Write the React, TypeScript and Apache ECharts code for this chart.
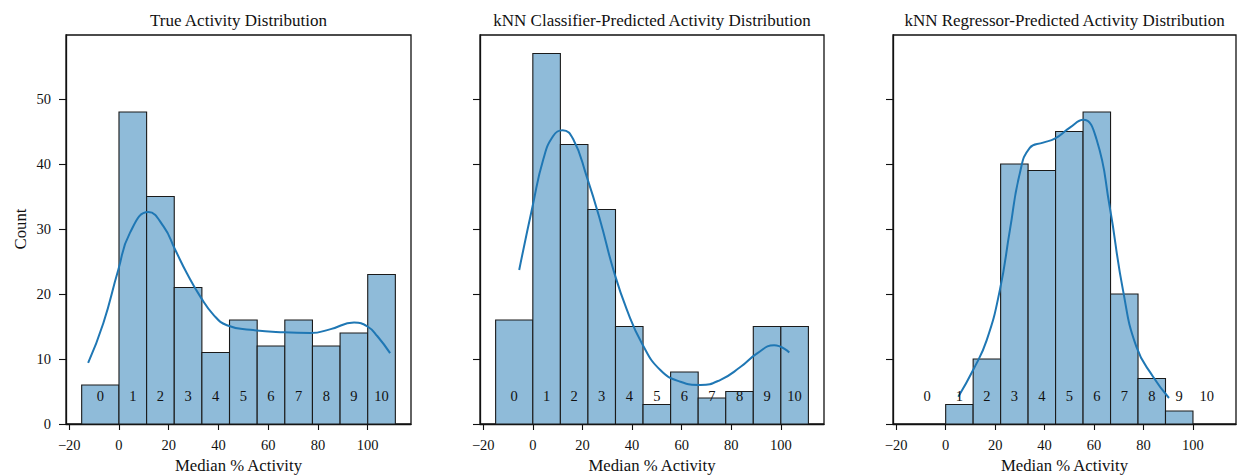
import { useEffect, useRef } from "react";
import * as echarts from "echarts";

const binEdges = [-15, 0, 11.11, 22.22, 33.33, 44.44, 55.56, 66.67, 77.78, 88.89, 100, 111.11];
const binLabels = ["0", "1", "2", "3", "4", "5", "6", "7", "8", "9", "10"];
const trueCounts = [6, 48, 35, 21, 11, 16, 12, 16, 12, 14, 23];
const classifierCounts = [16, 57, 43, 33, 15, 3, 8, 4, 5, 15, 15];
const regressorCounts = [0, 3, 10, 40, 39, 45, 48, 20, 7, 2, 0];

const trueKde = [
  [-12.4, 9.4], [-6.3, 15.5], [-0.3, 23.7], [4.4, 29.4], [11.8, 32.6], [17.9, 30.4],
  [22.6, 26.8], [27.3, 23.2], [32.7, 19.6], [38.0, 16.8], [43.4, 15.2], [52.8, 14.5],
  [66.3, 14.1], [77.0, 14.0], [85.1, 14.6], [94.5, 15.6], [99.9, 15.0], [103.9, 13.5],
  [109.0, 10.9],
];
const classifierKde = [
  [-5.5, 23.7], [-0.1, 33.5], [4.2, 40.7], [8.2, 44.3], [12.0, 45.2], [16.3, 43.8],
  [21.7, 38.1], [27.1, 31.4], [32.5, 23.7], [37.9, 17.6], [44.0, 12.4], [51.4, 8.3],
  [59.5, 6.5], [67.6, 6.0], [75.7, 6.8], [83.8, 8.8], [90.6, 10.9], [97.3, 12.1],
  [103.4, 11.0],
];
const regressorKde = [
  [5.1, 4.2], [11.1, 8.3], [16.6, 12.9], [21.9, 20.6], [26.0, 29.9], [30.0, 38.6],
  [34.0, 42.5], [39.4, 43.3], [44.1, 43.9], [50.2, 45.6], [55.6, 46.8], [61.0, 43.8],
  [66.3, 33.5], [71.7, 20.6], [77.1, 11.9], [83.8, 7.3], [90.3, 4.0],
];

const titles = [
  "True Activity Distribution",
  "kNN Classifier-Predicted Activity Distribution",
  "kNN Regressor-Predicted Activity Distribution",
];
const xTicks = [-20, 0, 20, 40, 60, 80, 100];
const yTicks = [0, 10, 20, 30, 40, 50];
const xLabel = "Median % Activity";
const yLabel = "Count";

const FONT = "'Liberation Serif', 'Times New Roman', serif";
const BAR_FILL = "#8fbbd9";
const LINE_COLOR = "#1f77b4";

const panels = [
  { left: 66, width: 345, counts: trueCounts, kde: trueKde },
  { left: 480, width: 344, counts: classifierCounts, kde: classifierKde },
  { left: 893, width: 343, counts: regressorCounts, kde: regressorKde },
];
const TOP = 35;
const HEIGHT = 389;

export default function App() {
  const ref = useRef<HTMLDivElement>(null);
  useEffect(() => {
    document.body.style.margin = "0";
    const chart = echarts.init(ref.current!, null, { renderer: "svg" });
    const grid: any[] = [];
    const xAxis: any[] = [];
    const yAxis: any[] = [];
    const series: any[] = [];
    const graphic: any[] = [];

    panels.forEach((p, i) => {
      grid.push({
        left: p.left, top: TOP, width: p.width, height: HEIGHT,
        show: true, borderColor: "#111", borderWidth: 1.3, backgroundColor: "transparent",
      });
      xAxis.push({
        type: "value", gridIndex: i, min: -21.3, max: 117.4,
        axisLine: { show: true, onZero: false, lineStyle: { color: "#111", width: 1.3 } },
        axisTick: { show: true, inside: false, length: 6, customValues: xTicks, lineStyle: { color: "#111", width: 1.1 } },
        axisLabel: {
          show: true, customValues: xTicks, margin: 13, fontSize: 14.5, fontFamily: FONT, color: "#111",
          formatter: (v: number) => String(v).replace("-", "\u2212"),
        },
        splitLine: { show: false },
      });
      yAxis.push({
        type: "value", gridIndex: i, min: 0, max: 59.85,
        axisLine: { show: true, onZero: false, lineStyle: { color: "#111", width: 1.3 } },
        axisTick: { show: true, inside: false, length: 7, customValues: yTicks, lineStyle: { color: "#111", width: 1.1 } },
        axisLabel: { show: i === 0, customValues: yTicks, margin: 15, fontSize: 14.5, fontFamily: FONT, color: "#111" },
        splitLine: { show: false },
      });
      const barData = p.counts.map((c, k) => [binEdges[k], binEdges[k + 1], c]);
      series.push({
        type: "custom", xAxisIndex: i, yAxisIndex: i, z: 2,
        data: barData,
        encode: { x: [0, 1], y: 2 },
        renderItem: (_params: any, api: any) => {
          const c = api.value(2);
          if (!c) return null;
          const a = api.coord([api.value(0), 0]);
          const b = api.coord([api.value(1), c]);
          return {
            type: "rect",
            shape: { x: a[0], y: b[1], width: b[0] - a[0], height: a[1] - b[1] },
            style: { fill: BAR_FILL, stroke: "#1a1a1a", lineWidth: 1.1 },
          };
        },
      });
      series.push({
        type: "line", xAxisIndex: i, yAxisIndex: i, z: 3,
        data: p.kde, smooth: true, showSymbol: false, symbol: "none",
        lineStyle: { color: LINE_COLOR, width: 2 },
      });
      const labelData = binLabels.map((t, k) => [(binEdges[k] + binEdges[k + 1]) / 2, t]);
      series.push({
        type: "custom", xAxisIndex: i, yAxisIndex: i, z: 4,
        data: labelData,
        encode: { x: 0 },
        renderItem: (_params: any, api: any) => {
          const idx = _params.dataIndex;
          const pt = api.coord([api.value(0), 4.36]);
          return {
            type: "text",
            x: pt[0], y: pt[1],
            style: {
              text: labelData[idx][1], fontSize: 14.5, fontFamily: FONT, fill: "#111",
              textAlign: "center", textVerticalAlign: "middle",
            },
          };
        },
      });
      graphic.push({
        type: "text", x: p.left + p.width / 2, y: 20,
        style: { text: titles[i], fontSize: 17, fontFamily: FONT, fill: "#111", textAlign: "center", textVerticalAlign: "middle" },
      });
      graphic.push({
        type: "text", x: p.left + p.width / 2, y: 465,
        style: { text: xLabel, fontSize: 16.7, fontFamily: FONT, fill: "#111", textAlign: "center", textVerticalAlign: "middle" },
      });
    });
    graphic.push({
      type: "text", x: 20, y: 229, rotation: Math.PI / 2,
      style: { text: yLabel, fontSize: 16.7, fontFamily: FONT, fill: "#111", textAlign: "center", textVerticalAlign: "middle" },
    });

    chart.setOption({
      animation: false,
      backgroundColor: "#fff",
      grid, xAxis, yAxis, series, graphic,
    });
    return () => chart.dispose();
  }, []);
  return <div ref={ref} style={{ width: 1238, height: 475 }} />;
}
